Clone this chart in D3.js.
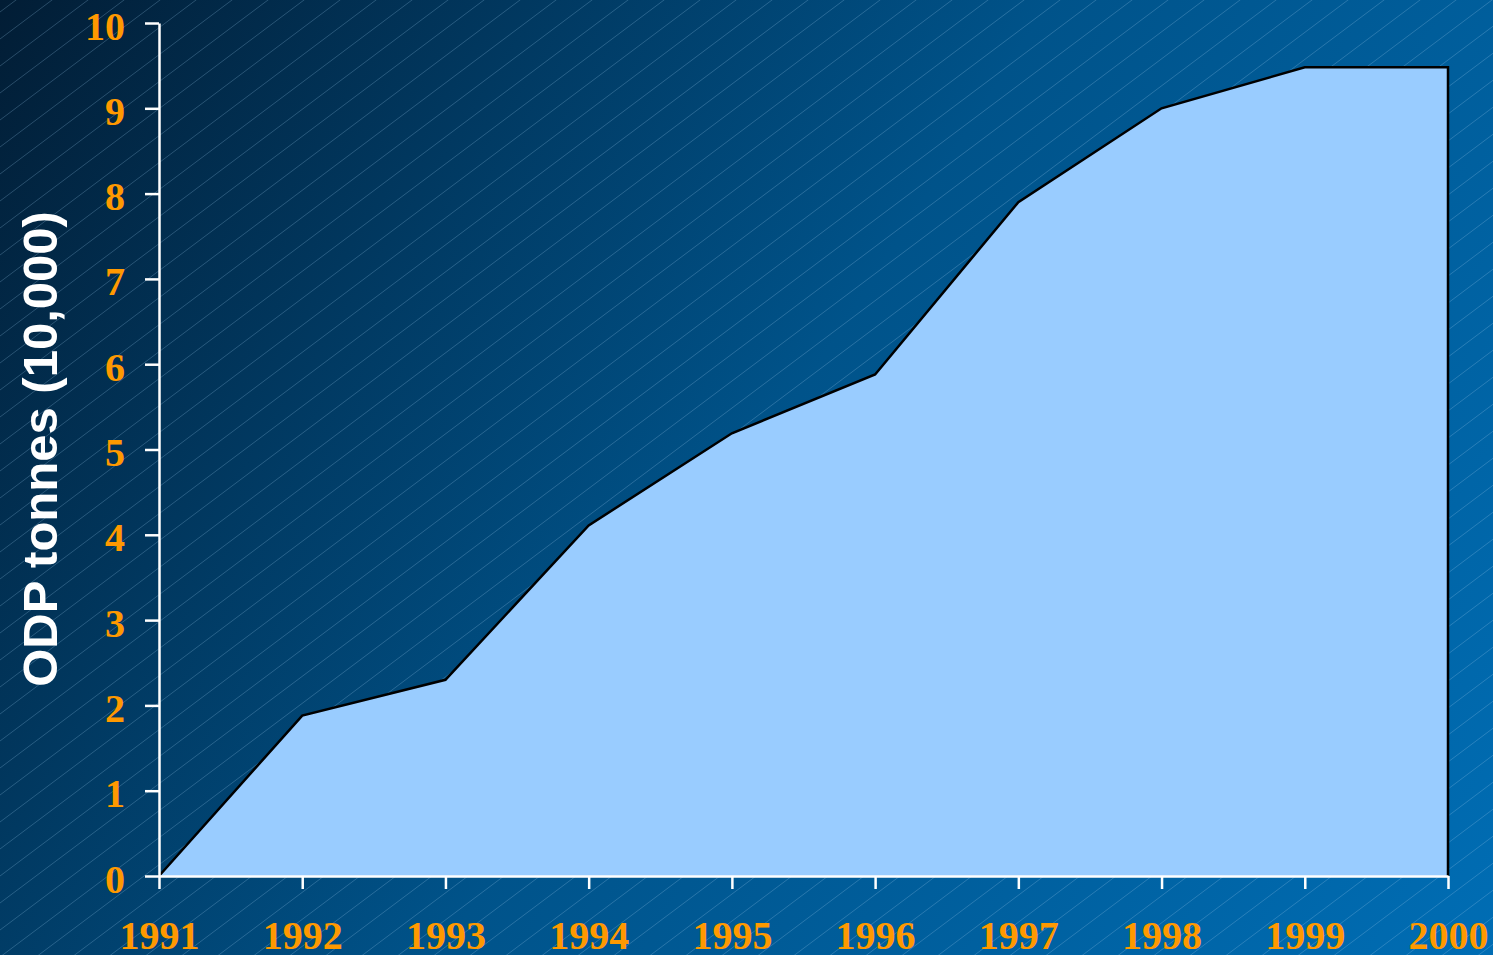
<!DOCTYPE html>
<html>
<head>
<meta charset="utf-8">
<script src="https://cdn.jsdelivr.net/npm/d3@7"></script>
<style>
html,body{margin:0;padding:0;overflow:hidden;background:#00406e;}
svg{display:block;}
</style>
</head>
<body>
<svg id="chart" width="1493" height="955"></svg>
<script>
const years = [1991, 1992, 1993, 1994, 1995, 1996, 1997, 1998, 1999, 2000];
const values = [0, 1.88, 2.3, 4.11, 5.19, 5.88, 7.9, 9.0, 9.48, 9.48];
const yTicks = [0, 1, 2, 3, 4, 5, 6, 7, 8, 9, 10];
const yTitle = "ODP tonnes (10,000)";

const W = 1493, H = 955;
const svg = d3.select("#chart");
const defs = svg.append("defs");
const grad = defs.append("linearGradient").attr("id", "bg")
  .attr("gradientUnits", "userSpaceOnUse")
  .attr("x1", 0).attr("y1", 0).attr("x2", W).attr("y2", H);
grad.append("stop").attr("offset", 0).attr("stop-color", "#021d35");
grad.append("stop").attr("offset", 0.5).attr("stop-color", "#00538a");
grad.append("stop").attr("offset", 1).attr("stop-color", "#006db4");
svg.append("rect").attr("width", W).attr("height", H).attr("fill", "url(#bg)");

// diagonal hatch
const hatch = svg.append("g").attr("stroke", "rgba(160,205,240,0.26)").attr("stroke-width", 1);
const slope = 0.75, step = 27;
for (let c = 12 - step * 2; c < H + slope * W + step; c += step) {
  hatch.append("line").attr("x1", 0).attr("y1", c).attr("x2", W).attr("y2", c - slope * W);
}

const x = d3.scaleLinear().domain([1991, 2000]).range([159, 1448]);
const y = d3.scaleLinear().domain([0, 10]).range([876, 23]);

const area = d3.area().x((d, i) => x(years[i])).y0(y(0)).y1(d => y(d));
const pts = values.map((v, i) => [x(years[i]), y(v)]);
svg.append("path").datum(values)
  .attr("d", area)
  .attr("fill", "#99ccff");
// outline: top line + right edge
const outline = d3.line()(pts.concat([[x(2000), y(0)]]));
svg.append("path").attr("d", outline).attr("fill", "none")
  .attr("stroke", "#000").attr("stroke-width", 2.5).attr("stroke-linejoin", "miter");

// axes
const yAxis = d3.axisLeft(y).tickValues(yTicks).tickSize(14).tickSizeOuter(0).tickPadding(20);
const gy = svg.append("g").attr("transform", `translate(${x(1991)},0)`).call(yAxis);
gy.selectAll("path.domain,line").attr("stroke", "#fff").attr("stroke-width", 2.5);
gy.selectAll("text").attr("fill", "#ff9900")
  .attr("font-family", "'Liberation Serif','Times New Roman',serif")
  .attr("font-weight", "bold").attr("font-size", 40).attr("dy", "0.40em");

const xAxis = d3.axisBottom(x).tickValues(years).tickFormat(d3.format("d")).tickSize(13).tickSizeOuter(0).tickPadding(0);
const gx = svg.append("g").attr("transform", `translate(0,${y(0)})`).call(xAxis);
gx.selectAll("path.domain,line").attr("stroke", "#fff").attr("stroke-width", 2.5);
gx.selectAll("text").attr("fill", "#ff9900")
  .attr("font-family", "'Liberation Serif','Times New Roman',serif")
  .attr("font-weight", "bold").attr("font-size", 40)
  .attr("dy", null).attr("y", 73);

svg.append("text")
  .attr("transform", "translate(57,449) rotate(-90)")
  .attr("text-anchor", "middle")
  .attr("fill", "#fff")
  .attr("font-family", "'Liberation Sans',Arial,sans-serif")
  .attr("font-weight", "bold").attr("font-size", 49)
  .text(yTitle);
</script>
</body>
</html>
